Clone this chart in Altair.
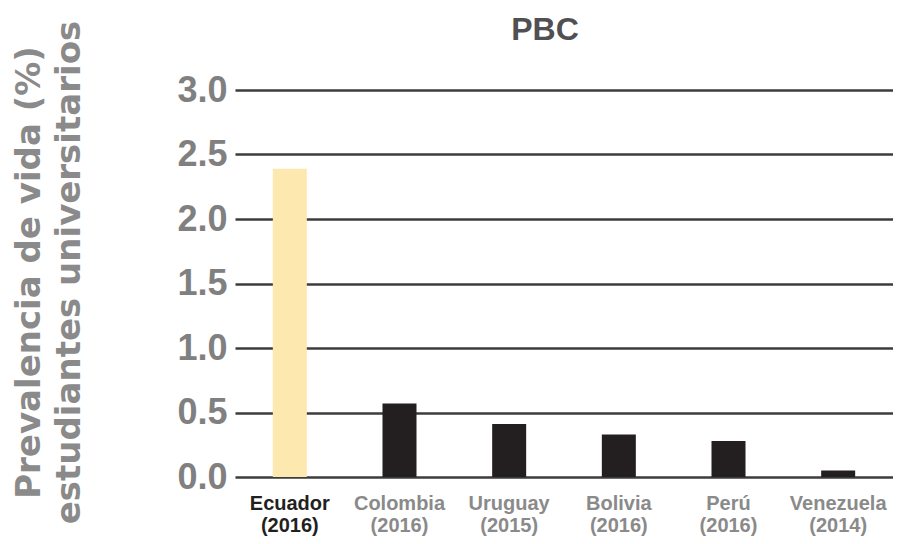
import altair as alt
import pandas as pd

countries = ["Ecuador|(2016)", "Colombia|(2016)", "Uruguay|(2015)",
             "Bolivia|(2016)", "Perú|(2016)", "Venezuela|(2014)"]
values = [2.39, 0.57, 0.41, 0.33, 0.28, 0.05]
colors = ["#fde8b0", "#231f20", "#231f20", "#231f20", "#231f20", "#231f20"]
y_ticks = [0.0, 0.5, 1.0, 1.5, 2.0, 2.5, 3.0]

df = pd.DataFrame({"pais": countries, "valor": values, "color": colors})

FONT = "DejaVu Sans"
FONT2 = "Liberation Sans"

chart = alt.Chart(df).mark_bar(size=34).encode(
    x=alt.X("pais:N", sort=countries,
            scale=alt.Scale(paddingInner=0, paddingOuter=0),
            axis=alt.Axis(title=None, labelAngle=0, ticks=False, domain=False,
                          labelExpr="split(datum.value, '|')",
                          labelFont=FONT2, labelFontWeight="bold", labelFontSize=20,
                          labelLineHeight=22, labelPadding=16, labelBaseline="top",
                          labelColor={"condition": {"test": "indexof(datum.value, 'Ecuador') == 0", "value": "#231f20"},
                                      "value": "#8a8a8a"})),
    y=alt.Y("valor:Q", scale=alt.Scale(domain=[0, 3], nice=False),
            axis=alt.Axis(values=y_ticks, format=".1f", ticks=False, domain=False,
                          grid=True, gridColor="#3c3c3c", gridWidth=2.5,
                          labelFont=FONT2, labelFontWeight="bold", labelFontSize=36,
                          labelColor="#808080", labelPadding=8,
                          title=["Prevalencia de vida (%)", "estudiantes universitarios"],
                          titleFont=FONT, titleFontWeight="bold", titleFontSize=34,
                          titleColor="#8a8a8a", titleAngle=-90, titleBaseline="top",
                          titleAlign="center", titleLineHeight=40,
                          titleX=-223, titleY=182)),
    color=alt.Color("color:N", scale=None),
).properties(
    width=658, height=387,
    title=alt.TitleParams("PBC", font=FONT2, fontWeight="bold", fontSize=32,
                          color="#505052", anchor="middle", dx=-19, offset=-27),
    autosize=alt.AutoSizeParams(type="none"),
    padding={"left": 227, "top": 82, "right": 0, "bottom": 60},
).configure_view(stroke=None)

chart.save("out.html", embed_options={"renderer": "svg", "actions": False})
